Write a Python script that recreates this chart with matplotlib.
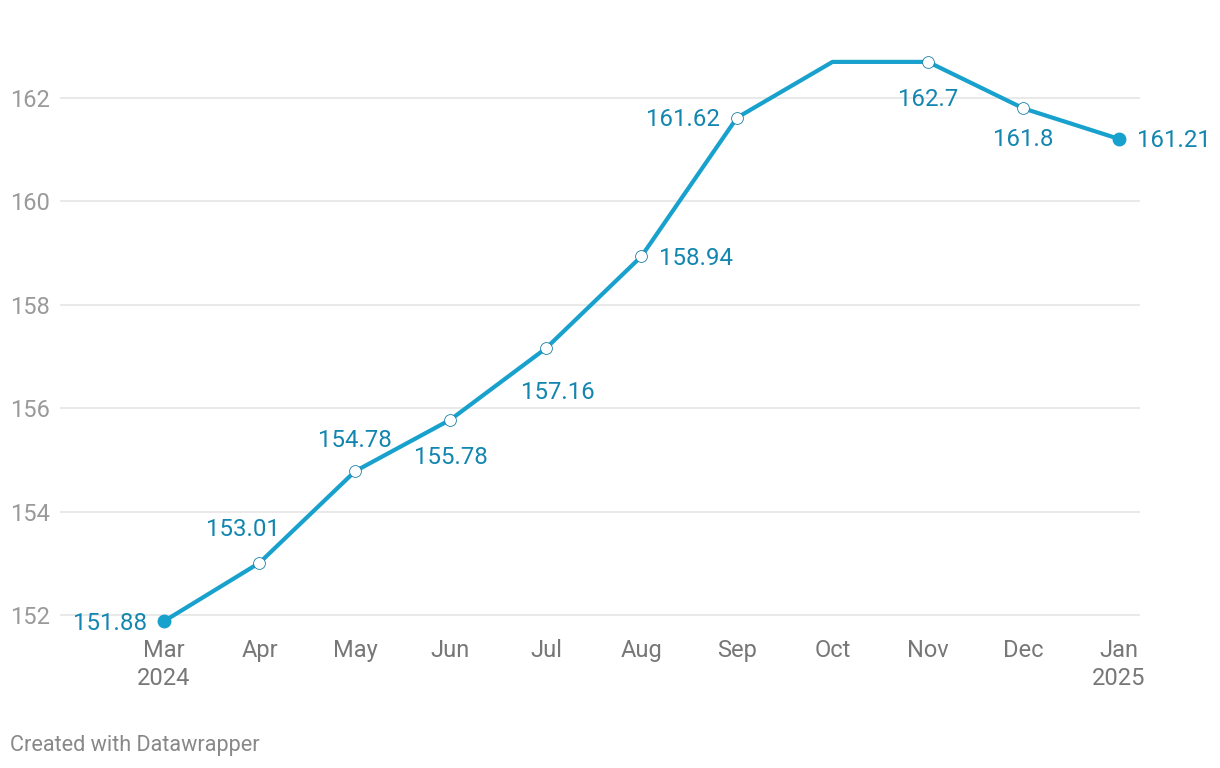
import matplotlib.pyplot as plt

plt.rcParams['font.family'] = ['Roboto', 'DejaVu Sans']

months = ["Mar\n2024", "Apr", "May", "Jun", "Jul", "Aug", "Sep", "Oct", "Nov", "Dec", "Jan\n2025"]
values = [151.88, 153.01, 154.78, 155.78, 157.16, 158.94, 161.62, 162.7, 162.7, 161.8, 161.21]
labels = ["151.88", "153.01", "154.78", "155.78", "157.16", "158.94", "161.62", "", "162.7", "161.8", "161.21"]
yticks = [152, 154, 156, 158, 160, 162]

# label placement (offset in pixels, alignment)
placement = [
    (-17, -2, "right", "center"),
    (-17, 33, "center", "center"),
    (0, 31, "center", "center"),
    (0, -38, "center", "center"),
    (12, -44, "center", "center"),
    (18, -2, "left", "center"),
    (-17, -2, "right", "center"),
    (0, 0, "center", "center"),
    (0, -38, "center", "center"),
    (0, -31, "center", "center"),
    (18, -2, "left", "center"),
]

line_color = "#18a1cd"
text_color = "#1386b0"

fig = plt.figure(figsize=(12.2, 7.68), dpi=100)
ax = fig.add_axes([60 / 1220, 0.179, 1080 / 1220, 0.7606])

x = list(range(len(values)))
ax.plot(x, values, color=line_color, lw=3.0, solid_joinstyle="round", zorder=3)

# hollow markers for the middle points, filled for the ends
for i, v in enumerate(values):
    if labels[i] == "":
        continue
    if i == 0 or i == len(values) - 1:
        ax.plot(i, v, "o", ms=9, color=line_color, zorder=4)
    else:
        ax.plot(i, v, "o", ms=8.5, mfc="white", mec="#1a7fa6", mew=0.6, zorder=4)
    dx, dy, ha, va = placement[i]
    ax.annotate(labels[i], (i, v), xytext=(dx, dy), textcoords="offset pixels",
                ha=ha, va=va, fontsize=17.3, color=text_color, zorder=5)

ax.set_xlim(-1.089, 10.22)
ax.set_ylim(151.7, 163.0)
ax.set_yticks(yticks)
ax.set_yticklabels([str(t) for t in yticks])
ax.set_xticks(x)
ax.set_xticklabels(months, linespacing=1.3)
ax.grid(axis="y", color="#e3e3e3", lw=1.1, zorder=0)
for s in ax.spines.values():
    s.set_visible(False)
ax.tick_params(axis="y", length=0, pad=7, labelsize=17, labelcolor="#9a9a9a")
ax.tick_params(axis="x", length=0, pad=6, labelsize=17, labelcolor="#777777")

fig.text(10 / 1220, 1 - 745 / 768, "Created with Datawrapper", fontsize=15.6,
         color="#888888", va="center", ha="left")

fig.savefig("out.png", dpi=100, facecolor="white")
